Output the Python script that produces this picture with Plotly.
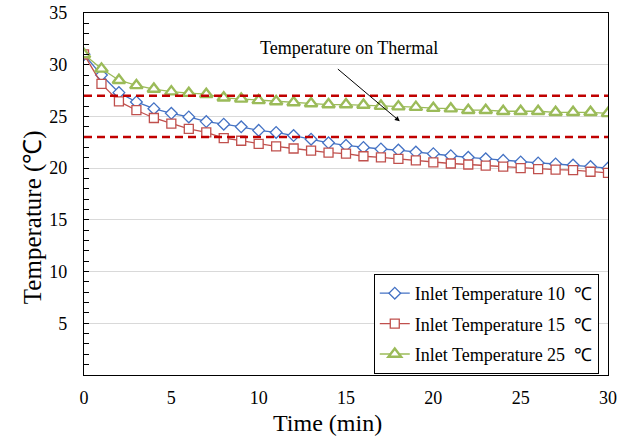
import plotly.graph_objects as go

time_min = list(range(0, 31))
inlet_10 = [31.0, 29.0, 27.3, 26.4, 25.75, 25.3, 24.95, 24.5, 24.25, 24.0, 23.65,
            23.45, 23.15, 22.8, 22.45, 22.2, 22.0, 21.85, 21.75, 21.55, 21.4,
            21.2, 21.05, 20.9, 20.75, 20.6, 20.5, 20.4, 20.3, 20.15, 20.0]
inlet_15 = [31.0, 28.15, 26.45, 25.6, 24.85, 24.3, 23.8, 23.45, 22.9, 22.65, 22.35,
            22.1, 21.9, 21.7, 21.5, 21.4, 21.15, 21.05, 20.9, 20.75, 20.55,
            20.45, 20.35, 20.25, 20.15, 20.0, 19.9, 19.85, 19.8, 19.65, 19.55]
inlet_25 = [31.0, 29.6, 28.5, 28.0, 27.65, 27.4, 27.25, 27.15, 26.8, 26.7, 26.55,
            26.45, 26.35, 26.25, 26.15, 26.15, 26.1, 26.0, 25.95, 25.9, 25.8,
            25.75, 25.6, 25.6, 25.5, 25.5, 25.5, 25.4, 25.4, 25.4, 25.3]
thermal_band = [23, 27]
series_names = ["Inlet Temperature 10\u00a0\u00a0℃",
                "Inlet Temperature 15\u00a0\u00a0℃",
                "Inlet Temperature 25\u00a0\u00a0℃"]
y_ticks = [5, 10, 15, 20, 25, 30, 35]
x_ticks = [0, 5, 10, 15, 20, 25, 30]

FONT = "Liberation Serif"

fig = go.Figure()
fig.add_trace(go.Scatter(
    x=time_min, y=inlet_10, name=series_names[0], mode="lines+markers", legendgroup="a",
    line=dict(color="#4472C4", width=1.3),
    marker=dict(symbol="diamond", size=9, color="white",
                line=dict(color="#4472C4", width=1.3))))
fig.add_trace(go.Scatter(
    x=time_min, y=inlet_15, name=series_names[1], mode="lines+markers", legendgroup="b",
    line=dict(color="#C0504D", width=1.3),
    marker=dict(symbol="square", size=9, color="white",
                line=dict(color="#C0504D", width=1.3))))
fig.add_trace(go.Scatter(
    x=time_min, y=inlet_25, name=series_names[2], mode="lines+markers", legendgroup="c",
    line=dict(color="#9BBB59", width=1.3),
    marker=dict(symbol="triangle-up", size=11, color="white",
                line=dict(color="#9BBB59", width=2.4))))

for v in thermal_band:
    fig.add_shape(type="line", xref="x", yref="y", x0=0, x1=30, y0=v, y1=v,
                  line=dict(color="#C00000", width=2.5, dash="8px,5px"), layer="above")

fig.add_annotation(x=18.08, y=24.53, ax=14.45, ay=29.7, xref="x", yref="y",
                   axref="x", ayref="y", text="", showarrow=True,
                   arrowhead=2, arrowsize=1, arrowwidth=1, arrowcolor="black")
fig.add_annotation(x=15.2, y=31.6, xref="x", yref="y", text="Temperature on Thermal",
                   showarrow=False, font=dict(family=FONT, size=18, color="black"))

# axis titles (placed as text, matching the reference's offsets)
fig.add_annotation(x=0.465, y=-0.132, xref="paper", yref="paper", xanchor="center",
                   yanchor="middle", text="Time (min)", showarrow=False,
                   font=dict(family=FONT, size=24, color="black"))
fig.add_annotation(x=-0.098, y=0.435, xref="paper", yref="paper", xanchor="center",
                   yanchor="middle", text="Temperature (℃)", textangle=-90,
                   showarrow=False, font=dict(family=FONT, size=25, color="black"))

fig.update_layout(
    width=633, height=437,
    margin=dict(l=84, r=25, t=13, b=62, autoexpand=False),
    paper_bgcolor="white", plot_bgcolor="white",
    font=dict(family=FONT, color="black", size=18),
    showlegend=True,
    legend=dict(x=0.553, y=0.279, xanchor="left", yanchor="top",
                bgcolor="white", bordercolor="black", borderwidth=1,
                font=dict(family=FONT, size=18), tracegroupgap=4,
                itemwidth=30),
)
fig.update_xaxes(range=[0, 30], tickvals=x_ticks, showgrid=False, zeroline=False,
                 showline=True, linecolor="black", linewidth=1.3, mirror=True,
                 ticks="", ticklabelstandoff=6, automargin=False,
                 tickfont=dict(family=FONT, size=18))
fig.update_yaxes(range=[0, 35], tickvals=y_ticks, showgrid=True, gridcolor="#D9D9D9",
                 gridwidth=1, zeroline=False, showline=True, linecolor="black",
                 linewidth=1.3, mirror=True, ticks="inside", ticklen=5,
                 tickcolor="black", ticklabelstandoff=12, automargin=False,
                 minor=dict(dtick=1, ticks="inside", ticklen=5, tickcolor="black",
                            showgrid=False),
                 tickfont=dict(family=FONT, size=18))

fig.write_html("out.html")
